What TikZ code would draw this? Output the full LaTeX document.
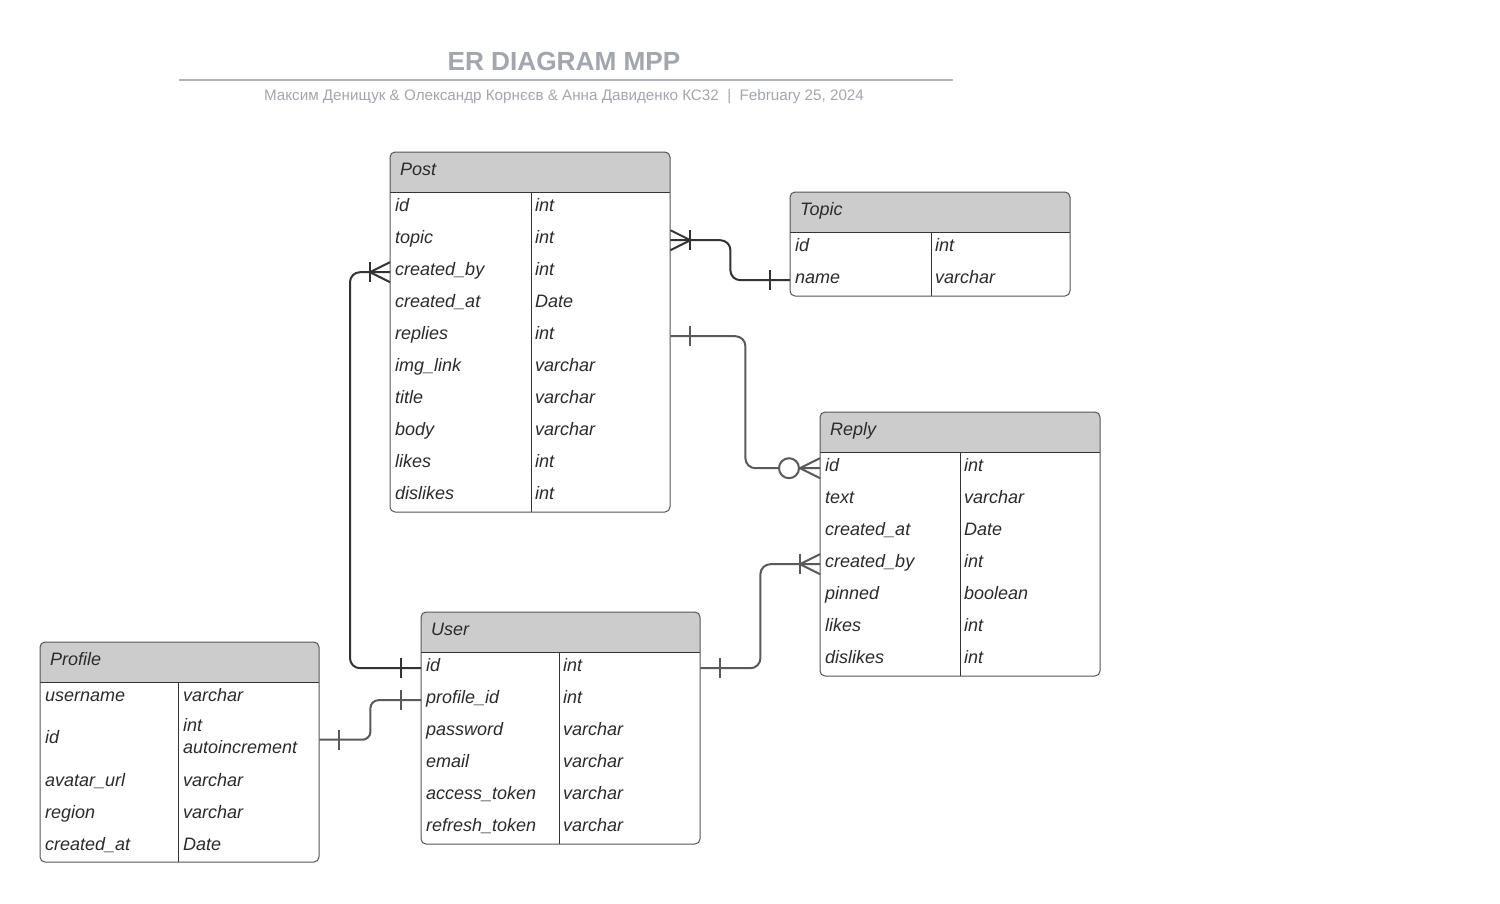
\documentclass[tikz,border=0pt]{standalone}
\usepackage{fontspec}
\setmainfont{Liberation Sans}
\definecolor{hdr}{HTML}{CCCCCC}
\definecolor{bord}{HTML}{555555}
\definecolor{txt}{HTML}{2B2B2B}
\definecolor{lnDark}{HTML}{333333}
\definecolor{lnGray}{HTML}{5A5A5A}
\definecolor{ttl}{HTML}{A2A7AF}
\definecolor{ttlline}{HTML}{B3B6BB}
\tikzset{
  rowcell/.style={anchor=north west, inner sep=0pt, minimum height=32pt},
  celltext/.style={anchor=base west, inner sep=0pt, font=\fontsize{18}{21.6}\selectfont\itshape, text=txt},
  headtext/.style={anchor=base west, inner sep=0pt, font=\fontsize{18}{21.6}\selectfont\itshape, text=txt},
  tborder/.style={draw=bord, line width=1pt},
  divline/.style={draw=lnDark, line width=1pt},
  conn/.style={line width=2pt, rounded corners=10pt},
  ermark/.style={line width=2pt},
  crowbar/.pic={\draw (0,-10) -- (20,0) -- (0,10); \draw (20,-10) -- (20,10);},
  onebar/.pic={\draw (20,-10) -- (20,10);},
  zeromany/.pic={\draw (0,-10) -- (20,0) -- (0,10); \draw[fill=white] (31,0) circle (10pt);},
}
% box: key, x1, y1, x2, y2, divider x, title
\newcommand\erbox[7]{%
  \begin{scope}
    \clip[rounded corners=5pt] (#2,#3) rectangle (#4,#5);
    \fill[hdr] (#2,#3) rectangle (#4,#3+40);
  \end{scope}
  \draw[divline] (#2,#3+40) -- (#4,#3+40);
  \draw[divline] (#6,#3+40) -- (#6,#5);
  \draw[tborder, rounded corners=5pt] (#2,#3) rectangle (#4,#5);
  \node[headtext] (#1) at (#2+10,#3+23.5) {#7};
}
% rows: key, x1, first row top, width, divider x, rows
\newcommand\errows[6]{%
  \foreach \k/\l/\t [count=\i from 0] in {#6} {
    \node[rowcell, minimum width=#4pt] (#1-\k) at (#2, #3+32*\i) {};
    \node[celltext] (#1-\k-n) at (#2+5, #3+32*\i+19.5) {\l};
    \node[celltext] (#1-\k-t) at (#5+4, #3+32*\i+19.5) {\t};
  }
}
\begin{document}
\begin{tikzpicture}[x=1pt, y=-1pt]
\useasboundingbox (0,0) rectangle (1500,903);
\fill[white] (0,0) rectangle (1500,903);

% title
\node[anchor=base, inner sep=0pt, font=\bfseries\fontsize{26.2}{30}\selectfont, text=ttl] (title) at (564,70) {ER DIAGRAM MPP};
\draw[ttlline, line width=2pt] (179,80) -- (953,80);
\node[anchor=base, inner sep=0pt, font=\fontsize{15.2}{18}\selectfont, text=ttl] (subtitle) at (564,100) {Максим Денищук \& Олександр Корнєєв \& Анна Давиденко КС32~~|~~February 25, 2024};

% Post
\erbox{post}{390}{152}{670}{512}{531}{Post}
\errows{post}{390}{192}{280}{531}{id/id/int, topic/topic/int, cby/created\_by/int, cat/created\_at/Date, replies/replies/int, img/img\_link/varchar, title/title/varchar, body/body/varchar, likes/likes/int, dislikes/dislikes/int}

% Topic
\erbox{topic}{790}{192}{1070}{296}{931}{Topic}
\errows{topic}{790}{232}{280}{931}{id/id/int, name/name/varchar}

% Reply
\erbox{reply}{820}{412}{1100}{676}{960}{Reply}
\errows{reply}{820}{452}{280}{960}{id/id/int, text/text/varchar, cat/created\_at/Date, cby/created\_by/int, pinned/pinned/boolean, likes/likes/int, dislikes/dislikes/int}

% User
\erbox{user}{421}{612}{700}{844}{559}{User}
\errows{user}{421}{652}{279}{559}{id/id/int, pid/profile\_id/int, pw/password/varchar, email/email/varchar, at/access\_token/varchar, rt/refresh\_token/varchar}

% Profile
\erbox{profile}{40}{642}{319}{862}{178}{Profile}
\node[rowcell, minimum width=279pt, minimum height=31pt] (profile-username) at (40,682) {};
\node[celltext] (profile-username-n) at (45,701.5) {username};
\node[celltext] (profile-username-t) at (183,701.5) {varchar};
\node[rowcell, minimum width=279pt, minimum height=53pt] (profile-id) at (40,713) {};
\node[celltext] (profile-id-n) at (45,743) {id};
\node[celltext] (profile-id-t1) at (183,731.5) {int};
\node[celltext] (profile-id-t2) at (183,753.5) {autoincrement};
\node[rowcell, minimum width=279pt] (profile-avatar) at (40,766) {};
\node[celltext] (profile-avatar-n) at (45,786) {avatar\_url};
\node[celltext] (profile-avatar-t) at (183,786) {varchar};
\node[rowcell, minimum width=279pt] (profile-region) at (40,798) {};
\node[celltext] (profile-region-n) at (45,818) {region};
\node[celltext] (profile-region-t) at (183,818) {varchar};
\node[rowcell, minimum width=279pt] (profile-cat) at (40,830) {};
\node[celltext] (profile-cat-n) at (45,850) {created\_at};
\node[celltext] (profile-cat-t) at (183,850) {Date};

% connectors
% Post.topic -> Topic.name
\draw[conn, lnDark] (post-topic.east) -- ++(60,0) |- (topic-name.west);
\pic[ermark, lnDark] at (post-topic.east) {crowbar};
\pic[ermark, lnDark, xscale=-1] at (topic-name.west) {onebar};

% User.id -> Post.created_by
\draw[conn, lnDark] (user-id.west) -- ++(-71,0) |- (post-cby.west);
\pic[ermark, lnDark, xscale=-1] at (user-id.west) {onebar};
\pic[ermark, lnDark, xscale=-1] at (post-cby.west) {crowbar};

% Post.replies -> Reply.id
\draw[conn, lnGray] (post-replies.east) -- ++(75,0) |- (reply-id.west);
\pic[ermark, lnGray] at (post-replies.east) {onebar};
\pic[ermark, lnGray, xscale=-1] at (reply-id.west) {zeromany};

% User.id -> Reply.created_by
\draw[conn, lnGray] (user-id.east) -- ++(60,0) |- (reply-cby.west);
\pic[ermark, lnGray] at (user-id.east) {onebar};
\pic[ermark, lnGray, xscale=-1] at (reply-cby.west) {crowbar};

% Profile.id -> User.profile_id
\draw[conn, lnGray, rounded corners=8pt] (profile-id.east) -- ++(51,0) |- (user-pid.west);
\pic[ermark, lnGray] at (profile-id.east) {onebar};
\pic[ermark, lnGray, xscale=-1] at (user-pid.west) {onebar};
\end{tikzpicture}
\end{document}
